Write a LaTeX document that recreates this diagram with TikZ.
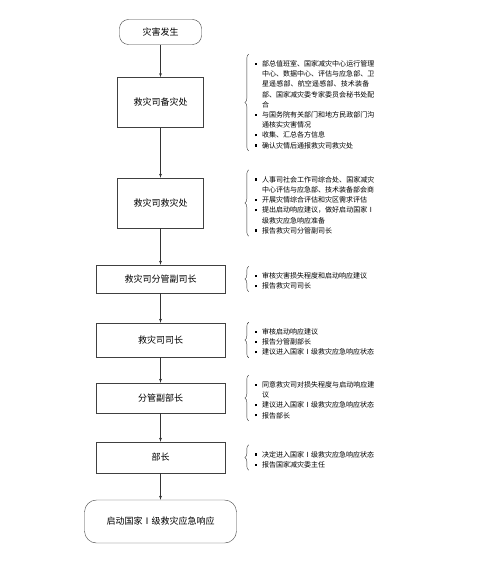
\documentclass[tikz,border=0pt]{standalone}
\usepackage{fontspec}
\setmainfont{Noto Sans CJK SC}
\XeTeXlinebreaklocale "zh"
\XeTeXlinebreakskip=0pt plus 0.5pt
\usetikzlibrary{shapes, arrows, decorations.pathreplacing}
\tikzstyle{event}  = [rectangle, draw=black!75, rounded corners=9pt, text centered, minimum width=82pt, minimum height=25pt, font=\fontsize{9}{11}\selectfont]
\tikzstyle{office} = [rectangle, draw=black!75, text centered, minimum width=86pt, minimum height=50pt, font=\fontsize{9}{11}\selectfont]
\tikzstyle{leader} = [rectangle, draw=black!75, text centered, minimum width=129pt, minimum height=30pt, font=\fontsize{9}{11}\selectfont]
\tikzstyle{remark} = [text width=120pt, align=left, inner sep=0pt, font=\fontsize{7}{10.2}\selectfont]
\tikzstyle{single} = [draw=black!80, -latex']
\tikzstyle{brace}  = [draw=black!80, decorate, decoration={brace, amplitude=4pt}]
\newcommand{\itm}{\par\noindent\hangindent=7pt\hangafter=1\makebox[7pt][l]{\rule[1.6pt]{2.2pt}{2.2pt}}}

\begin{document}
\begin{tikzpicture}[node distance = 60pt, auto]
    \useasboundingbox (0,0) rectangle (484pt,-567pt);
    \node[event] (n0) at (160.5pt,-32pt) {灾害发生};
    \node[office, node distance=70.5pt, below of=n0] (n1) {救灾司备灾处};
    \node[office, node distance=100.5pt, below of=n1] (n2) {救灾司救灾处};
    \node[leader, minimum height=28pt, node distance=76pt, below of=n2] (n3) {救灾司分管副司长};
    \node[leader, minimum height=34pt, node distance=61pt, below of=n3] (n4) {救灾司司长};
    \node[leader, node distance=58pt, below of=n4] (n5) {分管副部长};
    \node[leader, minimum height=31pt, node distance=59.5pt, below of=n5] (n6) {部长};
    \node[event, rounded corners=12pt, minimum width=152pt, minimum height=43pt, node distance=64pt, below of=n6] (n7) {启动国家Ⅰ级救灾应急响应};

    \node[remark, node distance=154.5pt, right of=n1] (t1) {%
        \itm 部总值班室、国家减灾中心运行管理中心、数据中心、评估与应急部、卫星遥感部、航空遥感部、技术装备部、国家减灾委专家委员会秘书处配合
        \itm 与国务院有关部门和地方民政部门沟通核实灾害情况
        \itm 收集、汇总各方信息
        \itm 确认灾情后通报救灾司救灾处};
    \node[remark, node distance=154.5pt, right of=n2] (t2) {%
        \itm 人事司社会工作司综合处、国家减灾中心评估与应急部、技术装备部会商
        \itm 开展灾情综合评估和灾区需求评估
        \itm 提出启动响应建议，做好启动国家Ⅰ级救灾应急响应准备
        \itm 报告救灾司分管副司长};
    \node[remark, node distance=154.5pt, right of=n3] (t3) {%
        \itm 审核灾害损失程度和启动响应建议
        \itm 报告救灾司司长};
    \node[remark, node distance=154.5pt, right of=n4] (t4) {%
        \itm 审核启动响应建议
        \itm 报告分管副部长
        \itm 建议进入国家Ⅰ级救灾应急响应状态};
    \node[remark, node distance=154.5pt, right of=n5] (t5) {%
        \itm 同意救灾司对损失程度与启动响应建议
        \itm 建议进入国家Ⅰ级救灾应急响应状态
        \itm 报告部长};
    \node[remark, node distance=154.5pt, right of=n6] (t6) {%
        \itm 决定进入国家Ⅰ级救灾应急响应状态
        \itm 报告国家减灾委主任};

    % flow down the column
    \path[single] (n0) -- (n1);
    \path[single] (n1) -- (n2);
    \path[single] (n2) -- (n3);
    \path[single] (n3) -- (n4);
    \path[single] (n4) -- (n5);
    \path[single] (n5) -- (n6);
    \path[single] (n6) -- (n7);

    % braces in front of the notes
    \foreach \t in {t1, t2, t3, t4, t5, t6}
        \path[brace] ([xshift=-6pt, yshift=-2pt]\t.south west) -- ([xshift=-6pt, yshift=2pt]\t.north west);
\end{tikzpicture}
\end{document}
